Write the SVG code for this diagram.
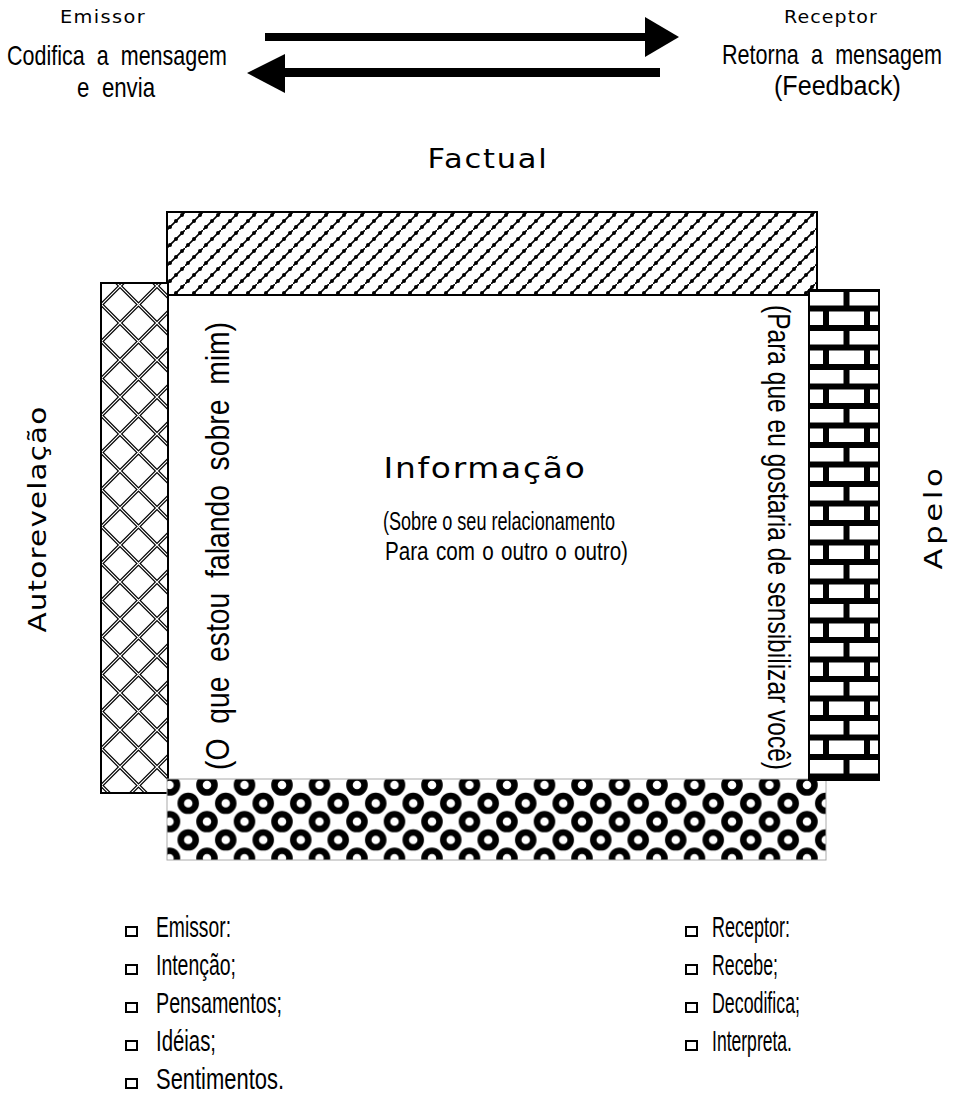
<svg xmlns="http://www.w3.org/2000/svg" width="955" height="1108" viewBox="0 0 955 1108">
<style>
.sp{font-family:"DejaVu Sans","Verdana",sans-serif;fill:#000;text-anchor:middle}
.cn{font-family:"Liberation Sans","Arial",sans-serif;fill:#000}
.bul{fill:#fff;stroke:#000;stroke-width:2}
.frame{stroke:#000;stroke-width:2}
</style>
<defs>
<pattern id="diag" patternUnits="userSpaceOnUse" x="167" y="212" width="18" height="18">
<rect width="18" height="18" fill="#fff"/>
<path d="M-2,20 L20,-2" stroke="#000" stroke-width="1.6"/>
<circle cx="3" cy="15" r="2" fill="#000"/>
<circle cx="9" cy="9" r="2" fill="#000"/>
<circle cx="15" cy="3" r="2" fill="#000"/>
</pattern>
<pattern id="lattice" patternUnits="userSpaceOnUse" x="120" y="323" width="37" height="37">
<rect width="37" height="37" fill="#fff"/>
<path d="M-2,-2 L39,39 M39,-2 L-2,39" stroke="#000" stroke-width="3.6"/>
<path d="M-2,-2 L39,39 M39,-2 L-2,39" stroke="#fff" stroke-width="1.2"/>
</pattern>
<pattern id="brick" patternUnits="userSpaceOnUse" x="809" y="290" width="41" height="39">
<rect width="41" height="39" fill="#000"/>
<rect x="0" y="2" width="34.5" height="13.5" fill="#fff"/>
<rect x="40.5" y="2" width="0.5" height="13.5" fill="#fff"/>
<rect x="0" y="21.5" width="14" height="13.5" fill="#fff"/>
<rect x="20" y="21.5" width="21" height="13.5" fill="#fff"/>
</pattern>
<pattern id="rings" patternUnits="userSpaceOnUse" x="207" y="785" width="37.5" height="36.6">
<rect width="37.5" height="36.6" fill="#fff"/>
<g fill="#fff" stroke="#000" stroke-width="6.5">
<circle cx="0" cy="0" r="7.5"/>
<circle cx="37.5" cy="0" r="7.5"/>
<circle cx="0" cy="36.6" r="7.5"/>
<circle cx="37.5" cy="36.6" r="7.5"/>
<circle cx="18.75" cy="18.3" r="7.5"/>
</g>
</pattern>
</defs>
<rect width="955" height="1108" fill="#fff"/>

<g id="emissor">
<text class="sp" x="103" y="23" font-size="17" letter-spacing="1.2" textLength="86" lengthAdjust="spacingAndGlyphs">Emissor</text>
<text class="cn" x="7" y="65" font-size="28" word-spacing="8" textLength="220" lengthAdjust="spacingAndGlyphs">Codifica a mensagem</text>
<text class="cn" x="77" y="97" font-size="28" word-spacing="8" textLength="78" lengthAdjust="spacingAndGlyphs">e envia</text>
</g>
<g id="receptor">
<text class="sp" x="831" y="23" font-size="17" letter-spacing="1" textLength="94" lengthAdjust="spacingAndGlyphs">Receptor</text>
<text class="cn" transform="translate(722,64) scale(0.771,1)" font-size="28" word-spacing="8">Retorna a mensagem</text>
<text class="cn" transform="translate(774,95) scale(0.897,1)" font-size="28">(Feedback)</text>
</g>

<g id="connectors">
<rect x="265" y="33" width="381" height="8" fill="#000"/>
<polygon points="645,17 679,37 645,57" fill="#000"/>
<rect x="284" y="68" width="376" height="9" fill="#000"/>
<polygon points="285,54 247,73 285,93" fill="#000"/>
</g>

<g id="factual">
<text class="sp" x="488" y="168" font-size="26" letter-spacing="1.5" textLength="121" lengthAdjust="spacingAndGlyphs">Factual</text>
<rect class="frame" x="167" y="212" width="650" height="83" fill="url(#diag)"/>
</g>

<g id="autorevelacao">
<rect class="frame" x="101" y="283" width="67" height="510" fill="url(#lattice)"/>
<text class="sp" transform="translate(46,519) rotate(-90)" font-size="25" letter-spacing="1" textLength="227" lengthAdjust="spacingAndGlyphs">Autorevelação</text>
</g>

<g id="relacionamento">
<rect x="167" y="779" width="659" height="81" fill="url(#rings)" stroke="#aaa" stroke-width="1"/>
</g>

<g id="apelo">
<rect class="frame" x="809" y="290" width="70" height="490" fill="url(#brick)"/>
<text class="sp" transform="translate(942,517) rotate(-90)" font-size="25" letter-spacing="3" textLength="105" lengthAdjust="spacingAndGlyphs">Apelo</text>
</g>

<g id="informacao">
<rect x="169" y="296" width="639" height="482" fill="#fff"/>
<text class="sp" x="485" y="478" font-size="28" letter-spacing="1.5" textLength="203" lengthAdjust="spacingAndGlyphs">Informação</text>
<text class="cn" x="383" y="530" font-size="26" textLength="232" lengthAdjust="spacingAndGlyphs">(Sobre o seu relacionamento</text>
<text class="cn" x="385" y="560" font-size="26" word-spacing="2" textLength="243" lengthAdjust="spacingAndGlyphs">Para com o outro o outro)</text>
<text class="cn" transform="translate(229,770) rotate(-90)" font-size="33" word-spacing="8" textLength="448" lengthAdjust="spacingAndGlyphs">(O que estou falando sobre mim)</text>
<text class="cn" transform="translate(768,305) rotate(90)" font-size="32" textLength="465" lengthAdjust="spacingAndGlyphs">(Para que eu gostaria de sensibilizar você)</text>
</g>

<g id="lista-emissor">
<rect class="bul" x="126" y="927" width="11" height="9"/>
<rect class="bul" x="126" y="965" width="11" height="9"/>
<rect class="bul" x="126" y="1003" width="11" height="9"/>
<rect class="bul" x="126" y="1041" width="11" height="9"/>
<rect class="bul" x="126" y="1079" width="11" height="9"/>
<text class="cn" x="156" y="937" font-size="30" textLength="75" lengthAdjust="spacingAndGlyphs">Emissor:</text>
<text class="cn" x="156" y="975" font-size="30" textLength="80" lengthAdjust="spacingAndGlyphs">Intenção;</text>
<text class="cn" x="156" y="1013" font-size="30" textLength="126" lengthAdjust="spacingAndGlyphs">Pensamentos;</text>
<text class="cn" x="156" y="1051" font-size="30" textLength="60" lengthAdjust="spacingAndGlyphs">Idéias;</text>
<text class="cn" x="156" y="1089" font-size="30" textLength="128" lengthAdjust="spacingAndGlyphs">Sentimentos.</text>
</g>

<g id="lista-receptor">
<rect class="bul" x="686" y="927" width="11" height="9"/>
<rect class="bul" x="686" y="965" width="11" height="9"/>
<rect class="bul" x="686" y="1003" width="11" height="9"/>
<rect class="bul" x="686" y="1041" width="11" height="9"/>
<text class="cn" x="712" y="937" font-size="30" textLength="78" lengthAdjust="spacingAndGlyphs">Receptor:</text>
<text class="cn" x="712" y="975" font-size="30" textLength="66" lengthAdjust="spacingAndGlyphs">Recebe;</text>
<text class="cn" x="712" y="1013" font-size="30" textLength="88" lengthAdjust="spacingAndGlyphs">Decodifica;</text>
<text class="cn" x="712" y="1051" font-size="30" textLength="80" lengthAdjust="spacingAndGlyphs">Interpreta.</text>
</g>
</svg>
